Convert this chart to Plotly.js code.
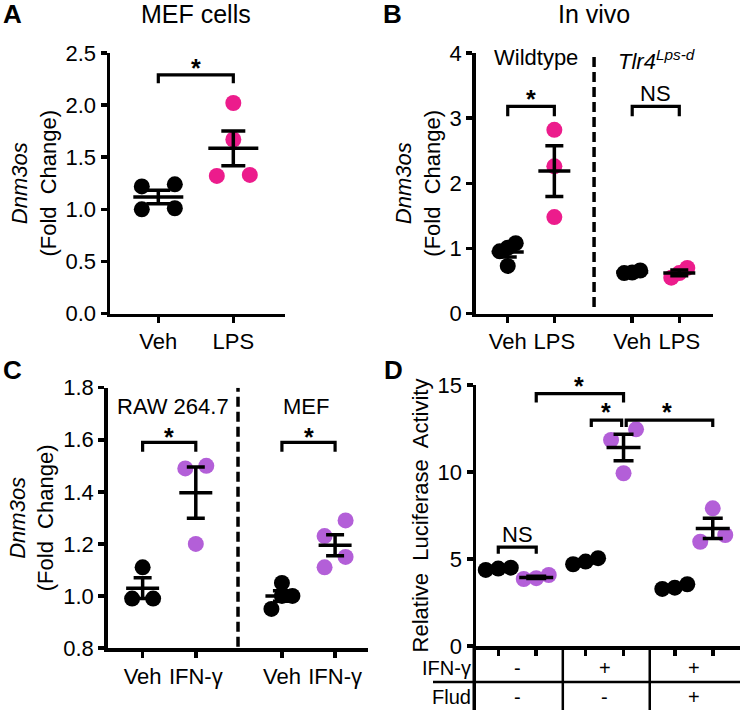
<!DOCTYPE html>
<html><head><meta charset="utf-8">
<script src="https://cdn.plot.ly/plotly-3.0.1.min.js"></script>
<style>html,body{margin:0;padding:0;background:#fff}#chart{width:740px;height:710px}</style>
</head><body><div id="chart"></div>
<script>
// ---------------- DATA ----------------
// Panel A: MEF cells
const aCategories = ['Veh', 'LPS'];
const aVeh = [1.24, 1.22, 1.00, 1.01];
const aLPS = [2.02, 1.67, 1.32, 1.33];
// Panel B: In vivo
const bCategories = ['Veh', 'LPS', 'Veh', 'LPS'];
const bWtVeh = [1.08, 1.01, 0.955, 0.73];
const bWtLPS = [2.82, 2.26, 1.48];
const bTlrVeh = [0.62, 0.66, 0.63];
const bTlrLPS = [0.55, 0.70, 0.62];
// Panel C
const cCategories = ['Veh', 'IFN-γ', 'Veh', 'IFN-γ'];
const cRawVeh = [1.11, 0.99, 0.99];
const cRawIFN = [1.49, 1.50, 1.20];
const cMefVeh = [1.05, 1.00, 1.00, 0.95];
const cMefIFN = [1.29, 1.23, 1.15, 1.11];
// Panel D
const dBlack = [[4.37, 4.50, 4.45], [4.70, 5.05, 4.85], [3.28, 3.55, 3.35]];
const dPurple = [[3.85, 4.08, 3.90], [11.84, 12.45, 9.93], [5.99, 6.38, 7.91]];
const dRowLabels = ['IFN-γ', 'Flud'];
const dIFN = ['-', '+', '+'];
const dFlud = ['-', '-', '+'];

// ---------------- STYLE / LAYOUT ----------------
const W = 740, H = 710;
const FONT = 'Liberation Sans, Arial, sans-serif';
const BLACK = '#000000', PINK = '#EC1C8C', PURPLE = '#B35FD8';
const LW = 3.5;
const TICK_SIZE = 22, TITLE_SIZE = 22, TEXT_SIZE = 22, TABLE_SIZE = 20;

// pixel boxes [left, right, top, bottom]
const P = {
  a: {xa: 'x', ya: 'y', box: [110, 285, 53, 313.5], xr: [0.356, 2.689], yr: [0, 2.5], pos: [1, 2], spread: 33, tol: 16, meanLen: 50, cap: 12},
  b: {xa: 'x2', ya: 'y2', box: [475.7, 713, 53, 313.5], xr: [0.313, 5.403], yr: [0, 4], pos: [1, 2, 3.67, 4.68], spread: 16, tol: 12, meanLen: 32, cap: 9},
  c: {xa: 'x3', ya: 'y3', box: [107.7, 368, 387.7, 648], xr: [0.343, 5.239], yr: [0.8, 1.8], pos: [1, 2, 3.62, 4.62], spread: 21, tol: 16, meanLen: 33, cap: 9},
  d: {xa: 'x4', ya: 'y4', box: [476, 740, 385, 646], xr: [0.413, 7.368], yr: [0, 15], pos: [1, 2, 3.3, 4.3, 5.65, 6.65], spread: 25, tol: 16, meanLen: 34, cap: 10}
};
for (const k in P) {
  const p = P[k];
  p.pxX = (p.box[1] - p.box[0]) / (p.xr[1] - p.xr[0]);
  p.pxY = (p.box[3] - p.box[2]) / (p.yr[1] - p.yr[0]);
}

function mean(v) { return v.reduce((s, x) => s + x, 0) / v.length; }
function sem(v) { const m = mean(v); const sd = Math.sqrt(v.reduce((s, x) => s + (x - m) * (x - m), 0) / (v.length - 1)); return sd / Math.sqrt(v.length); }

// GraphPad-like row swarm: points with similar values spread over a fixed width
function swarm(values, center, p) {
  const idx = values.map((v, i) => i).sort((a, b) => values[a] - values[b]);
  const rows = []; let cur = [];
  idx.forEach(i => {
    if (cur.length && (values[i] - values[cur[0]]) * p.pxY > p.tol) { rows.push(cur); cur = []; }
    cur.push(i);
  });
  if (cur.length) rows.push(cur);
  const xs = new Array(values.length);
  rows.forEach(r => {
    const n = r.length;
    r.forEach((i, k) => { const off = n > 1 ? (k / (n - 1) - 0.5) * p.spread : 0; xs[i] = center + off / p.pxX; });
  });
  return xs;
}

const traces = [];
function group(p, gi, values, color) {
  const c = p.pos[gi];
  traces.push({type: 'scatter', mode: 'markers', xaxis: p.xa, yaxis: p.ya, x: swarm(values, c, p), y: values,
    marker: {size: 16, color: color, line: {width: 0}}, showlegend: false, hoverinfo: 'y', cliponaxis: false});
  traces.push({type: 'scatter', mode: 'markers', xaxis: p.xa, yaxis: p.ya, x: [c], y: [mean(values)],
    marker: {symbol: 'line-ew', size: p.meanLen / 1.4, color: BLACK, line: {width: LW, color: BLACK}},
    error_y: {type: 'data', array: [sem(values)], width: p.cap, thickness: LW, color: BLACK},
    showlegend: false, hoverinfo: 'skip', cliponaxis: false});
}
group(P.a, 0, aVeh, BLACK); group(P.a, 1, aLPS, PINK);
group(P.b, 0, bWtVeh, BLACK); group(P.b, 1, bWtLPS, PINK);
group(P.b, 2, bTlrVeh, BLACK); group(P.b, 3, bTlrLPS, PINK);
group(P.c, 0, cRawVeh, BLACK); group(P.c, 1, cRawIFN, PURPLE);
group(P.c, 2, cMefVeh, BLACK); group(P.c, 3, cMefIFN, PURPLE);
dBlack.forEach((v, i) => { group(P.d, 2 * i, v, BLACK); group(P.d, 2 * i + 1, dPurple[i], PURPLE); });

// significance brackets
const annotations = [];
function bracket(p, x0, x1, top, tip, label, ly, lx) {
  traces.push({type: 'scatter', mode: 'lines', xaxis: p.xa, yaxis: p.ya, x: [x0, x0, x1, x1], y: [tip, top, top, tip],
    line: {color: BLACK, width: 3.2}, showlegend: false, hoverinfo: 'skip', cliponaxis: false});
  const star = label === '*';
  annotations.push({xref: p.xa, yref: p.ya, x: lx !== undefined ? lx : (x0 + x1) / 2, y: ly, text: star ? '<b>*</b>' : label, showarrow: false,
    font: {family: FONT, size: star ? 25 : TEXT_SIZE, color: BLACK}, xanchor: 'center', yanchor: 'middle'});
}
const A = P.a, B = P.b, C = P.c, D = P.d;
bracket(A, A.pos[0], A.pos[1], 2.29, 2.21, '*', 2.36);
bracket(B, B.pos[0], B.pos[1], 3.18, 3.03, '*', 3.30);
bracket(B, B.pos[2], B.pos[3], 3.18, 3.03, 'NS', 3.38);
bracket(C, C.pos[0], C.pos[1], 1.59, 1.554, '*', 1.612);
bracket(C, C.pos[2], C.pos[3], 1.59, 1.554, '*', 1.612);
bracket(D, D.pos[1], D.pos[3], 14.5, 14.0, '*', 14.95, 3.13);
bracket(D, 3.45, 4.25, 12.98, 12.58, '*', 13.45);
bracket(D, 4.37, D.pos[5], 12.98, 12.58, '*', 13.45, 5.44);
bracket(D, D.pos[0], D.pos[1], 5.68, 5.3, 'NS', 6.4);

// ---------------- AXES ----------------
function dom(p) { return {x: [p.box[0] / W, p.box[1] / W], y: [1 - p.box[3] / H, 1 - p.box[2] / H]}; }
function ax(extra) {
  return Object.assign({showgrid: false, zeroline: false, showline: true, linecolor: BLACK, linewidth: LW,
    ticks: 'outside', ticklen: 6, tickwidth: LW, tickcolor: BLACK, fixedrange: true,
    tickfont: {family: FONT, size: TICK_SIZE, color: BLACK}}, extra);
}
const titleFont = {family: FONT, size: TITLE_SIZE, color: BLACK};
const foldTitle = '<i>Dnm3os</i><br>(Fold\u00a0 Change)';

const layout = {
  width: W, height: H, margin: {l: 0, r: 0, t: 0, b: 0, pad: 0},
  paper_bgcolor: '#fff', plot_bgcolor: 'rgba(0,0,0,0)', showlegend: false,
  font: {family: FONT, color: BLACK},
  xaxis: ax({domain: dom(A).x, range: A.xr, anchor: 'y', tickvals: A.pos, ticktext: aCategories}),
  yaxis: ax({domain: dom(A).y, range: A.yr, anchor: 'x', dtick: 0.5, tickformat: '.1f', title: {text: foldTitle, font: titleFont, standoff: 4}}),
  xaxis2: ax({domain: dom(B).x, range: B.xr, anchor: 'y2', tickvals: B.pos, ticktext: bCategories}),
  yaxis2: ax({domain: dom(B).y, range: B.yr, anchor: 'x2', dtick: 1, title: {text: foldTitle, font: titleFont, standoff: 4}}),
  xaxis3: ax({domain: dom(C).x, range: C.xr, anchor: 'y3', tickvals: C.pos, ticktext: cCategories}),
  yaxis3: ax({domain: dom(C).y, range: C.yr, anchor: 'x3', dtick: 0.2, tickformat: '.1f', title: {text: foldTitle, font: titleFont, standoff: 4}}),
  xaxis4: ax({domain: dom(D).x, range: D.xr, anchor: 'y4', tickvals: D.pos, showticklabels: false}),
  yaxis4: ax({domain: dom(D).y, range: D.yr, anchor: 'x4', dtick: 5, title: {text: 'Relative\u00a0 Luciferase\u00a0 Activity', font: titleFont, standoff: 4}}),
  shapes: [],
  annotations: annotations
};

// dashed separators
layout.shapes.push({type: 'line', xref: 'x2', yref: 'y2', x0: 2.852, x1: 2.852, y0: 0.1, y1: 4.05, line: {color: BLACK, width: LW, dash: '10px,5px'}});
layout.shapes.push({type: 'line', xref: 'x3', yref: 'y3', x0: 2.794, x1: 2.794, y0: 0.805, y1: 1.8, line: {color: BLACK, width: LW, dash: '10px,5px'}});

// panel D treatment table
const dBottom = dom(D).y[0];
layout.shapes.push({type: 'line', xref: 'paper', yref: 'paper', x0: (D.box[0] - LW / 2) / W, x1: (D.box[0] - LW / 2) / W, y0: 0, y1: dBottom, line: {color: BLACK, width: LW}});
[2.70, 4.99].forEach(xv => layout.shapes.push({type: 'line', xref: 'x4', yref: 'paper', x0: xv, x1: xv, y0: 0, y1: dBottom, line: {color: BLACK, width: 2.5}}));
layout.shapes.push({type: 'line', xref: 'paper', yref: 'paper', x0: 433 / W, x1: 1, y0: 1 - 682 / H, y1: 1 - 682 / H, line: {color: BLACK, width: 2.5}});

const rowY = [1 - 668 / H, 1 - 697 / H];
dRowLabels.forEach((t, r) => annotations.push({xref: 'paper', yref: 'paper', x: 472 / W, y: rowY[r], text: t, showarrow: false, borderpad: 0, xanchor: 'right', yanchor: 'middle', font: {family: FONT, size: TABLE_SIZE, color: BLACK}}));
[dIFN, dFlud].forEach((row, r) => row.forEach((t, i) => annotations.push({xref: 'x4', yref: 'paper', x: (D.pos[2 * i] + D.pos[2 * i + 1]) / 2, y: rowY[r], text: t, showarrow: false, borderpad: 0, xanchor: 'center', yanchor: 'middle', font: {family: FONT, size: TABLE_SIZE, color: BLACK}})));

// panel titles and sub-labels
function paperText(x, y, text, size, bold) {
  annotations.push({xref: 'paper', yref: 'paper', x: x / W, y: 1 - y / H, text: bold ? '<b>' + text + '</b>' : text, showarrow: false, xanchor: 'center', yanchor: 'middle', font: {family: FONT, size: size, color: BLACK}});
}
paperText(12, 14, 'A', 26, true);
paperText(392, 14, 'B', 26, true);
paperText(12, 370, 'C', 26, true);
paperText(393, 370, 'D', 26, true);
paperText(196, 14, 'MEF cells', 25);
paperText(594, 14, 'In vivo', 25);
annotations.push({xref: 'x2', yref: 'y2', x: 1.6, y: 3.93, text: 'Wildtype', showarrow: false, font: {family: FONT, size: TEXT_SIZE, color: BLACK}});
annotations.push({xref: 'x2', yref: 'y2', x: 4.2, y: 3.9, text: '<i>Tlr4<sup>Lps-d</sup></i>', showarrow: false, font: {family: FONT, size: TEXT_SIZE, color: BLACK}});
annotations.push({xref: 'x3', yref: 'y3', x: 1.57, y: 1.727, text: 'RAW 264.7', showarrow: false, font: {family: FONT, size: TEXT_SIZE, color: BLACK}});
annotations.push({xref: 'x3', yref: 'y3', x: 4.08, y: 1.727, text: 'MEF', showarrow: false, font: {family: FONT, size: TEXT_SIZE, color: BLACK}});

Plotly.newPlot('chart', traces, layout, {displayModeBar: false, staticPlot: true});
</script>
</body></html>
